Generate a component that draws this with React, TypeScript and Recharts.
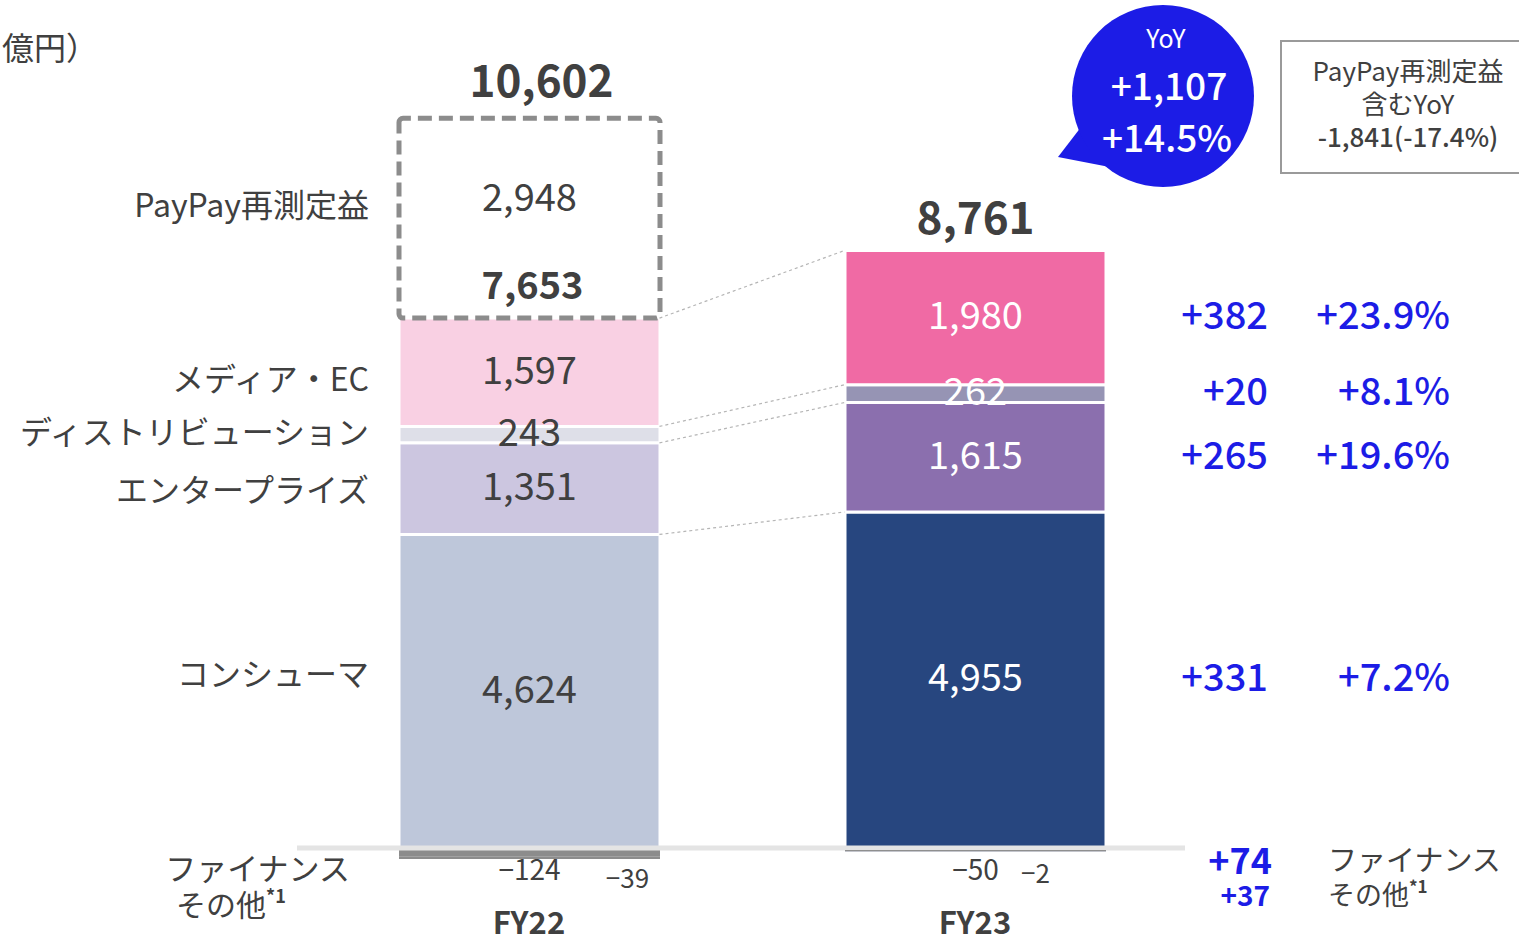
import React from 'react';
import { BarChart, Bar, XAxis, YAxis, Cell, LabelList, ReferenceLine } from 'recharts';

const categories = ['FY22', 'FY23'];
const consumer = [4624, 4955];
const enterprise = [1351, 1615];
const distribution = [243, 262];
const mediaEc = [1597, 1980];
const paypayGain = [2948, null];
const finance = [-124, -50];
const others = [-39, -2];
const netTotals = [7653, 8761];
const grossTotals = [10602, null];

// segment order bottom -> top
const segmentNames = ['コンシューマ', 'エンタープライズ', 'ディストリビューション', 'メディア・EC', 'PayPay再測定益'];
const yoyDiff = [331, 265, 20, 382];
const yoyPct = [7.2, 19.6, 8.1, 23.9];
const financeYoy = 74;
const othersYoy = 37;
const totalYoy = 1107;
const totalYoyPct = 14.5;
const yoyInclPaypay = -1841;
const yoyInclPaypayPct = -17.4;

const colorsFY22 = ['#bec7da', '#ccc6e0', '#dedfe8', '#f9d0e3'];
const colorsFY23 = ['#27467f', '#8b6fae', '#9694b4', '#f06aa4'];
const negColors = [['#8c8c8c', '#8c8c8c'], ['#3a3a3a', '#a7b0cc']];

const W = 1519;
const H = 943;
const BAR = 261;
const FONT = "'Noto Sans CJK JP', 'Noto Sans', sans-serif";
const TEXT = '#404040';
const BLUE = '#1c1ce6';
const labelDy = [-14, 4, 0, 10, -10];
const othersDx = [98, 60];
const UP = -5; // CJK font sits a bit low with central baseline

const data = categories.map((name, i) => ({
  name,
  consumer: consumer[i],
  enterprise: enterprise[i],
  distribution: distribution[i],
  media: mediaEc[i],
  paypay: paypayGain[i],
  finance: finance[i],
  others: others[i],
}));

const fmt = (n: number) => n.toLocaleString('en-US');
const signed = (n: number) => (n >= 0 ? '+' : '-') + fmt(Math.abs(n));

const cum = (upto: number) =>
  categories.map((_, i) => [consumer, enterprise, distribution, mediaEc].slice(0, upto + 1).reduce((s, a) => s + a[i], 0));

const segLabel = (seg: number) => (p: any) => {
  const i = p.index;
  const x = Number(p.x), y = Number(p.y), w = Number(p.width), h = Number(p.height);
  if (p.value == null) return null;
  const cx = x + w / 2;
  const cy = y + h / 2 + UP;
  return (
    <g fontFamily={FONT}>
      <text x={cx} y={cy} textAnchor="middle" dominantBaseline="central" fontSize={38} fill={i === 0 ? TEXT : '#fff'}>
        {fmt(p.value)}
      </text>
      {i === 0 && (
        <text x={x - 30} y={cy + labelDy[seg]} textAnchor="end" dominantBaseline="central" fontSize={32} fill={TEXT}>
          {segmentNames[seg]}
        </text>
      )}
      {i === 1 && (
        <>
          <text x={x + w + 162} y={cy} textAnchor="end" dominantBaseline="central" fontSize={38} fontWeight={500} fill={BLUE}>
            {signed(yoyDiff[seg])}
          </text>
          <text x={x + w + 344} y={cy} textAnchor="end" dominantBaseline="central" fontSize={38} fontWeight={500} fill={BLUE}>
            {(yoyPct[seg] >= 0 ? '+' : '') + yoyPct[seg].toFixed(1) + '%'}
          </text>
        </>
      )}
      {i === 1 && seg === 3 && (
        <text x={cx} y={y - 36} textAnchor="middle" dominantBaseline="central" fontSize={44} fontWeight={700} fill={TEXT}>
          {fmt(netTotals[1])}
        </text>
      )}
    </g>
  );
};

const paypayLabel = (p: any) => {
  const i = p.index;
  if (p.value == null) return null;
  const x = Number(p.x), y = Number(p.y), w = Number(p.width), h = Number(p.height);
  const cx = x + w / 2;
  return (
    <g fontFamily={FONT} fill={TEXT}>
      <text x={cx} y={y + h / 2 - 24} textAnchor="middle" dominantBaseline="central" fontSize={38}>
        {fmt(p.value)}
      </text>
      <text x={cx + 3} y={y + h - 36} textAnchor="middle" dominantBaseline="central" fontSize={38} fontWeight={700}>
        {fmt(netTotals[i])}
      </text>
      {grossTotals[i] != null && (
        <text x={cx + 12} y={y - 40} textAnchor="middle" dominantBaseline="central" fontSize={44} fontWeight={700}>
          {fmt(grossTotals[i] as number)}
        </text>
      )}
      <text x={x - 30} y={y + h / 2 + labelDy[4] + UP} textAnchor="end" dominantBaseline="central" fontSize={32}>
        {segmentNames[4]}
      </text>
    </g>
  );
};

const negLabel = (kind: 'finance' | 'others') => (p: any) => {
  const i = p.index;
  const x = Number(p.x), y = Number(p.y), w = Number(p.width), h = Number(p.height);
  const top = Math.min(y, y + h);
  const cx = kind === 'finance' ? x + w / 2 : x + w / 2 + othersDx[i];
  return (
    <text x={cx} y={top + 20} textAnchor="middle" dominantBaseline="central" fontFamily={FONT} fontSize={kind === 'finance' ? 28 : 26} fill={TEXT}>
      {'−' + fmt(Math.abs(p.value))}
    </text>
  );
};

const connector = (p: any) => (
  <line x1={p.x1 + BAR / 2} y1={p.y1} x2={p.x2 - BAR / 2} y2={p.y2} stroke="#b5b5b5" strokeWidth={1.2} strokeDasharray="3 3" />
);

const baseline = (p: any) => (
  <line x1={p.x1 - 9} y1={p.y1} x2={p.x2 - 13} y2={p.y2} stroke="#e4e4e4" strokeWidth={5} />
);

const XTick = (p: any) => (
  <text x={p.x} y={920} textAnchor="middle" dominantBaseline="central" fontFamily={FONT} fontSize={31} fontWeight={700} fill={TEXT}>
    {p.payload.value}
  </text>
);

export default function App() {
  const tops = [0, 1, 2, 3].map(cum);
  return (
    <div style={{ position: 'absolute', left: 0, top: 0, width: W, height: H, background: '#fff' }}>
      <BarChart width={W} height={H} data={data} stackOffset="sign" margin={{ top: 0, right: 321, bottom: 0, left: 306 }}>
        <XAxis dataKey="name" axisLine={false} tickLine={false} height={60} tick={XTick} />
        <YAxis hide domain={[-517, 12507]} allowDataOverflow />
        <Bar dataKey="consumer" stackId="s" barSize={BAR} stroke="#fff" strokeWidth={3} isAnimationActive={false}>
          {data.map((_, i) => <Cell key={i} fill={i === 0 ? colorsFY22[0] : colorsFY23[0]} />)}
          <LabelList dataKey="consumer" content={segLabel(0)} />
        </Bar>
        <Bar dataKey="enterprise" stackId="s" barSize={BAR} stroke="#fff" strokeWidth={3} isAnimationActive={false}>
          {data.map((_, i) => <Cell key={i} fill={i === 0 ? colorsFY22[1] : colorsFY23[1]} />)}
          <LabelList dataKey="enterprise" content={segLabel(1)} />
        </Bar>
        <Bar dataKey="distribution" stackId="s" barSize={BAR} stroke="#fff" strokeWidth={3} isAnimationActive={false}>
          {data.map((_, i) => <Cell key={i} fill={i === 0 ? colorsFY22[2] : colorsFY23[2]} />)}
          <LabelList dataKey="distribution" content={segLabel(2)} />
        </Bar>
        <Bar dataKey="media" stackId="s" barSize={BAR} stroke="#fff" strokeWidth={3} isAnimationActive={false}>
          {data.map((_, i) => <Cell key={i} fill={i === 0 ? colorsFY22[3] : colorsFY23[3]} />)}
          <LabelList dataKey="media" content={segLabel(3)} />
        </Bar>
        <Bar dataKey="paypay" stackId="s" barSize={BAR} fill="none" stroke="#8c8c8c" strokeWidth={5} strokeDasharray="14 7" radius={4} isAnimationActive={false}>
          <LabelList dataKey="paypay" content={paypayLabel} />
        </Bar>
        <Bar dataKey="finance" stackId="s" barSize={BAR} isAnimationActive={false}>
          {data.map((_, i) => <Cell key={i} fill={negColors[i][0]} />)}
          <LabelList dataKey="finance" content={negLabel('finance')} />
        </Bar>
        <Bar dataKey="others" stackId="s" barSize={BAR} isAnimationActive={false}>
          {data.map((_, i) => <Cell key={i} fill={negColors[i][1]} />)}
          <LabelList dataKey="others" content={negLabel('others')} />
        </Bar>
        {tops.map((t, k) => (
          <ReferenceLine key={k} segment={[{ x: categories[0], y: t[0] }, { x: categories[1], y: t[1] }]} shape={connector} />
        ))}
        <ReferenceLine y={0} shape={baseline} />
      </BarChart>
      <svg width={W} height={H} style={{ position: 'absolute', left: 0, top: 0, pointerEvents: 'none' }} fontFamily={FONT}>
        <text x={2} y={46} dominantBaseline="central" fontSize={32} fill={TEXT}>億円）</text>
        <text x={350} y={866} textAnchor="end" dominantBaseline="central" fontSize={31} fill={TEXT}>ファイナンス</text>
        <text x={176} y={903} dominantBaseline="central" fontSize={30} fill={TEXT}>
          その他<tspan fontSize={18} fontWeight={700} dy={-8}>*1</tspan>
        </text>
        <path d="M1088,118 L1058,157 L1125,170 Z" fill={BLUE} />
        <circle cx={1163} cy={96} r={91} fill={BLUE} />
        <text x={1166} y={37} textAnchor="middle" dominantBaseline="central" fontSize={25} fill="#fff">YoY</text>
        <text x={1169} y={84} textAnchor="middle" dominantBaseline="central" fontSize={37} fontWeight={500} fill="#fff">{signed(totalYoy)}</text>
        <text x={1167} y={136} textAnchor="middle" dominantBaseline="central" fontSize={37} fontWeight={500} fill="#fff">{'+' + totalYoyPct.toFixed(1) + '%'}</text>
        <rect x={1281} y={41} width={240} height={132} fill="#fff" stroke="#9a9a9a" strokeWidth={2} />
        <text x={1408} y={69} textAnchor="middle" dominantBaseline="central" fontSize={26} fill={TEXT}>PayPay再測定益</text>
        <text x={1408} y={102} textAnchor="middle" dominantBaseline="central" fontSize={26} fill={TEXT}>含むYoY</text>
        <text x={1408} y={135} textAnchor="middle" dominantBaseline="central" fontSize={26} fontWeight={500} fill={TEXT}>
          {signed(yoyInclPaypay) + '(' + yoyInclPaypayPct.toFixed(1) + '%)'}
        </text>
        <text x={1272} y={858} textAnchor="end" dominantBaseline="central" fontSize={36} fontWeight={700} fill={BLUE}>{signed(financeYoy)}</text>
        <text x={1270} y={894} textAnchor="end" dominantBaseline="central" fontSize={28} fontWeight={700} fill={BLUE}>{signed(othersYoy)}</text>
        <text x={1328} y={858} dominantBaseline="central" fontSize={29} fill={TEXT}>ファイナンス</text>
        <text x={1328} y={893} dominantBaseline="central" fontSize={27} fill={TEXT}>
          その他<tspan fontSize={17} fontWeight={700} dy={-8}>*1</tspan>
        </text>
      </svg>
    </div>
  );
}
